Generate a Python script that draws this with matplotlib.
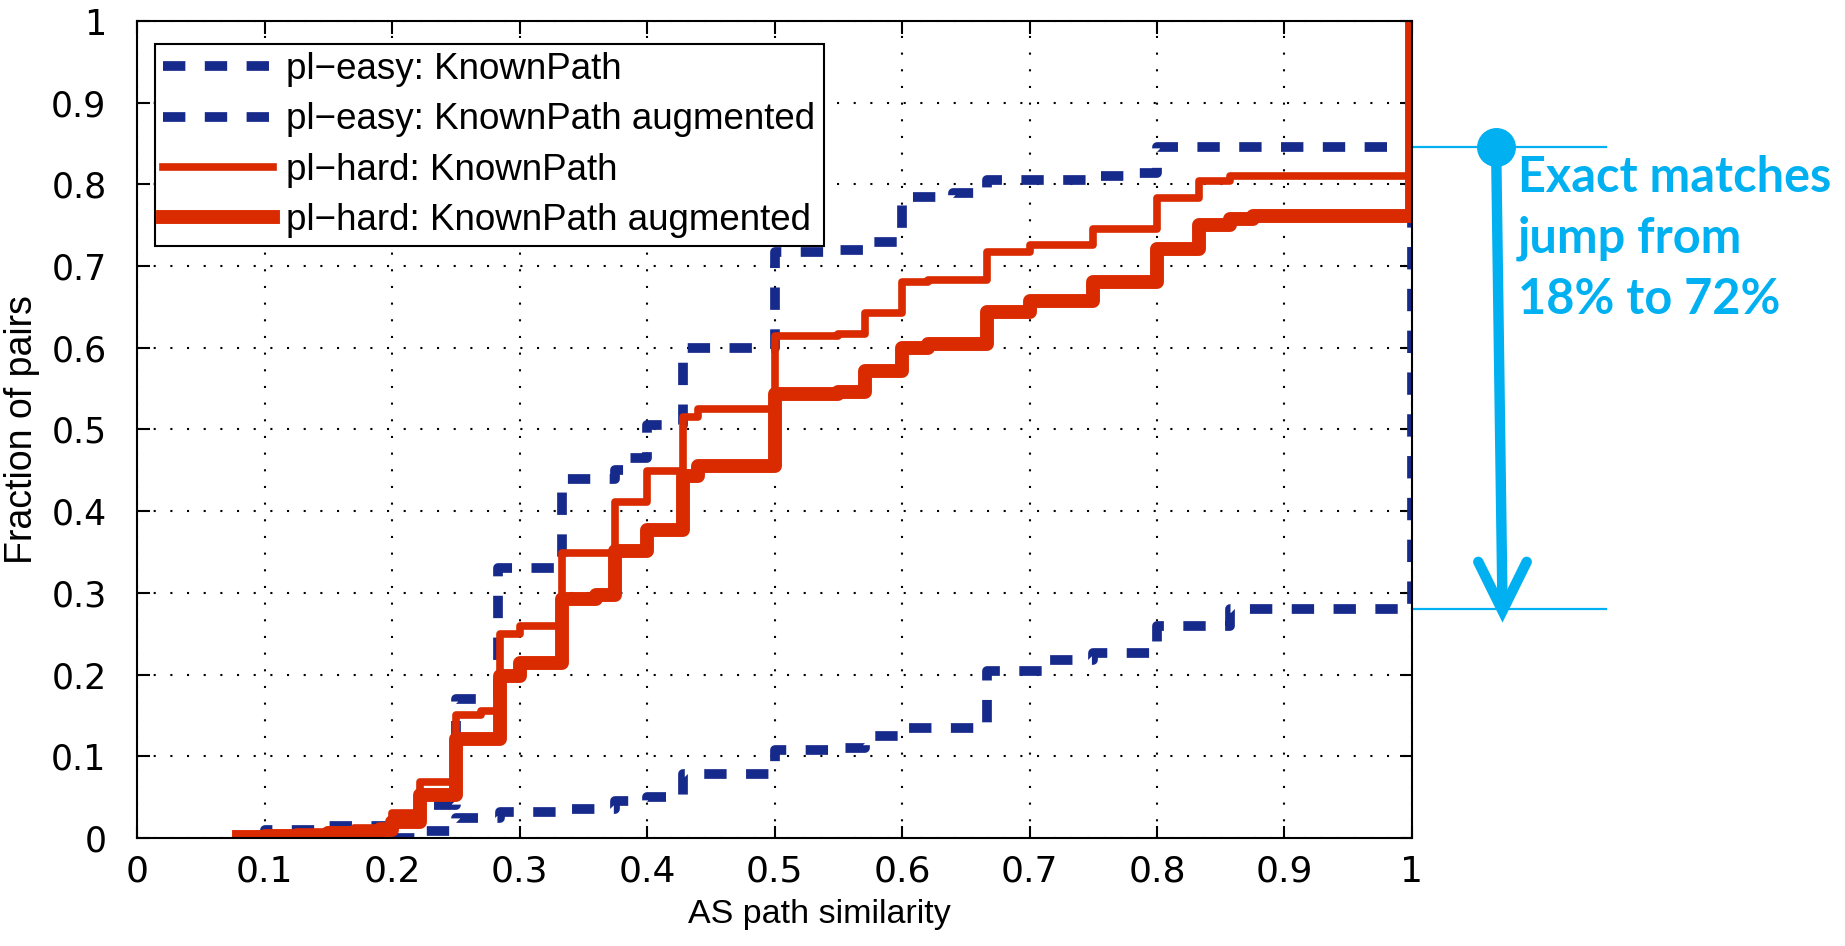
import matplotlib
matplotlib.use('Agg')
import matplotlib.pyplot as plt
from matplotlib import font_manager

# CDF steps: x where each step starts, fraction after it
easy_known_x = [0.095, 0.10, 0.14, 0.20, 0.22, 0.25, 0.283, 0.333, 0.375, 0.385, 0.40, 0.428,
                0.50, 0.545, 0.57, 0.60, 0.64, 0.667, 0.75, 0.78, 0.80, 1.0]
easy_known_y = [0.0, 0.01, 0.015, 0.02, 0.04, 0.17, 0.33, 0.44, 0.45, 0.465, 0.505, 0.60,
                0.717, 0.72, 0.73, 0.785, 0.79, 0.805, 0.81, 0.814, 0.846, 1.0]

easy_aug_x = [0.20, 0.222, 0.25, 0.285, 0.333, 0.375, 0.40, 0.428, 0.50, 0.55, 0.571, 0.60,
              0.667, 0.714, 0.75, 0.80, 0.857, 1.0]
easy_aug_y = [0.0, 0.008, 0.025, 0.032, 0.036, 0.045, 0.05, 0.078, 0.108, 0.11, 0.125, 0.135,
              0.204, 0.218, 0.226, 0.26, 0.28, 1.0]

hard_known_x = [0.08, 0.10, 0.125, 0.15, 0.17, 0.19, 0.20, 0.222, 0.25, 0.27, 0.285, 0.30,
                0.333, 0.375, 0.40, 0.428, 0.44, 0.50, 0.55, 0.571, 0.60, 0.62, 0.667, 0.70,
                0.75, 0.80, 0.833, 0.857, 1.0]
hard_known_y = [0.002, 0.005, 0.007, 0.01, 0.012, 0.015, 0.03, 0.068, 0.15, 0.155, 0.25, 0.26,
                0.349, 0.411, 0.449, 0.515, 0.525, 0.614, 0.617, 0.643, 0.68, 0.683, 0.717, 0.726,
                0.745, 0.783, 0.804, 0.81, 1.0]

hard_aug_x = [0.08, 0.10, 0.15, 0.19, 0.20, 0.222, 0.25, 0.285, 0.30, 0.333, 0.36, 0.375,
              0.40, 0.428, 0.44, 0.50, 0.55, 0.571, 0.60, 0.62, 0.667, 0.70, 0.75, 0.80,
              0.833, 0.857, 0.875, 1.0]
hard_aug_y = [0.001, 0.003, 0.006, 0.01, 0.02, 0.053, 0.121, 0.198, 0.214, 0.293, 0.297, 0.351,
              0.377, 0.443, 0.455, 0.543, 0.546, 0.571, 0.60, 0.605, 0.644, 0.657, 0.68, 0.721,
              0.75, 0.758, 0.761, 1.0]

labels = ["pl\u2212easy: KnownPath", "pl\u2212easy: KnownPath augmented",
          "pl\u2212hard: KnownPath", "pl\u2212hard: KnownPath augmented"]
ticks = [0, 0.1, 0.2, 0.3, 0.4, 0.5, 0.6, 0.7, 0.8, 0.9, 1]
tick_labels = ["0", "0.1", "0.2", "0.3", "0.4", "0.5", "0.6", "0.7", "0.8", "0.9", "1"]
note = "Exact matches\njump from\n18% to 72%"

blue = '#162a8c'
red = '#da2a00'
cyan = '#00b0f0'

# axis labels look condensed in the original, use the narrow face if it is there
installed = {f.name for f in font_manager.fontManager.ttflist}
if 'Liberation Sans Narrow' in installed:
    label_font, xl_size, yl_size = 'Liberation Sans Narrow', 27, 32
else:
    label_font, xl_size, yl_size = 'Liberation Sans', 24.5, 27

fig = plt.figure(figsize=(18.45, 9.46), dpi=100)
ax = fig.add_axes([0.0743, 0.1142, 0.6910, 0.8636])

ax.step(easy_known_x, easy_known_y, where='post', color=blue, lw=7, dashes=(2.3, 2.0), label=labels[0])
ax.step(easy_aug_x, easy_aug_y, where='post', color=blue, lw=7, dashes=(2.3, 2.0), label=labels[1])
ax.step(hard_known_x, hard_known_y, where='post', color=red, lw=5.5, label=labels[2])
ax.step(hard_aug_x, hard_aug_y, where='post', color=red, lw=10, label=labels[3])

ax.set_xlim(0, 1)
ax.set_ylim(0, 1)
ax.set_xticks(ticks)
ax.set_yticks(ticks)
ax.set_xticklabels(tick_labels, fontfamily='DejaVu Sans', fontsize=26)
ax.set_yticklabels(tick_labels, fontfamily='DejaVu Sans', fontsize=25)
ax.tick_params(direction='in', length=9, width=1.5, top=True, right=True, pad=12)
ax.tick_params(axis='y', pad=22)
ax.grid(True, color='k', linestyle=(0, (1, 7)), linewidth=1.5)
for s in ax.spines.values():
    s.set_linewidth(1.5)

ax.set_xlabel("AS path similarity", fontfamily=label_font, fontsize=xl_size)
ax.xaxis.set_label_coords(0.535, -0.075)
ax.set_ylabel("Fraction of pairs", fontfamily=label_font, fontsize=yl_size)
ax.yaxis.set_label_coords(-0.076, 0.5)

leg = ax.legend(loc='upper left', bbox_to_anchor=(0.014, 0.972), borderaxespad=0,
                prop={'family': 'Liberation Sans', 'size': 26.5}, fancybox=False,
                framealpha=1, edgecolor='k', handlelength=3.0, handletextpad=0.35,
                labelspacing=0.42, borderpad=0.22)
leg.get_frame().set_linewidth(1.5)

# annotation to the right of the axes: exact-match jump between the two pl-easy curves
y_top = easy_known_y[-2]
y_bot = easy_aug_y[-2]
ax.plot([1.0, 1.152], [y_top, y_top], color=cyan, lw=1.6, clip_on=False)
ax.plot([1.0, 1.152], [y_bot, y_bot], color=cyan, lw=1.6, clip_on=False)
ax.plot([1.066, 1.071], [y_top, y_bot + 0.005], color=cyan, lw=7.5, solid_capstyle='round', clip_on=False)
ax.plot([1.052, 1.071, 1.090], [y_bot + 0.058, y_bot - 0.002, y_bot + 0.058], color=cyan, lw=7.5,
        solid_capstyle='round', solid_joinstyle='miter', clip_on=False)
ax.plot([1.066], [y_top], 'o', ms=27, color=cyan, clip_on=False)
ax.text(1.083, 0.836, note, color=cyan, fontfamily='Lato', fontweight='bold', fontsize=35,
        va='top', ha='left', linespacing=1.42)

fig.savefig('out.png', dpi=100)
